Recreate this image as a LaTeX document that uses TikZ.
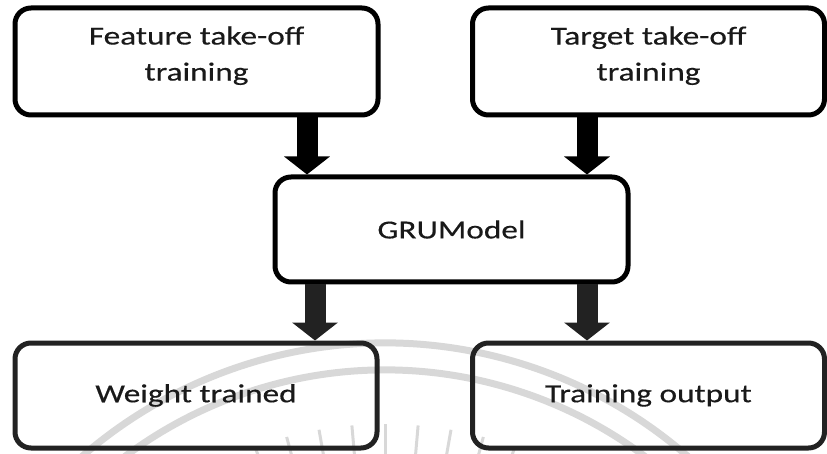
\documentclass[tikz,border=0pt]{standalone}
\usepackage{fontspec}
\setmainfont[FakeStretch=1.28,FakeBold=0.4]{Carlito}
\usetikzlibrary{arrows.meta}
\definecolor{inkdark}{HTML}{222222}
\definecolor{markgray}{HTML}{D8D8D8}
\tikzset{
  box/.style={draw, rounded corners=16pt, line width=5pt, align=center,
    inner sep=0pt, font=\fontsize{26}{36}\selectfont, text=black!90},
  twoline/.style={text depth=16pt},
  flow/.style={line width=21pt, -{Triangle[length=18pt,width=45pt]}},
  markline/.style={draw=markgray, line width=7pt},
  markray/.style={draw=markgray, line width=3pt},
}
\begin{document}
\begin{tikzpicture}[x=1pt,y=-1pt]
\useasboundingbox (0,0) rectangle (827,454);

% faint seal behind the lower boxes
\begin{scope}
  \clip (0,0) rectangle (827,454);
  \coordinate (sealc) at (385,804);
  \draw[markline] (sealc) ++(200:461) arc[start angle=200,end angle=340,radius=461];
  \draw[markline] (sealc) ++(200:434) arc[start angle=200,end angle=340,radius=434];
  \foreach \a in {250,255,...,290}
    \draw[markray] (sealc) ++(\a:350) -- ++(\a:30);
\end{scope}

% boxes
\node[box, twoline, minimum width=363pt, minimum height=107pt] (feat) at (196.5,61.5) {Feature take-off\\training};
\node[box, twoline, minimum width=352pt, minimum height=107pt] (targ) at (648.5,61.5) {Target take-off\\training};
\node[box, minimum width=353pt, minimum height=105pt] (gru) at (451.5,229.5) {GRUModel};
\node[box, draw=inkdark, minimum width=362pt, minimum height=105pt] (wt) at (196,395.5) {Weight trained};
\node[box, draw=inkdark, minimum width=352pt, minimum height=105pt] (out) at (648.5,395.5) {Training output};

% arrow columns
\coordinate (ca) at (307,0);
\coordinate (cb) at (587,0);
\coordinate (cc) at (315,0);
\coordinate (cd) at (587,0);

\draw[flow] (feat.south -| ca) -- (gru.north -| ca);
\draw[flow] (targ.south -| cb) -- (gru.north -| cb);
\draw[flow, draw=inkdark, fill=inkdark] (gru.south -| cc) -- (wt.north -| cc);
\draw[flow, draw=inkdark, fill=inkdark] (gru.south -| cd) -- (out.north -| cd);
\end{tikzpicture}
\end{document}
